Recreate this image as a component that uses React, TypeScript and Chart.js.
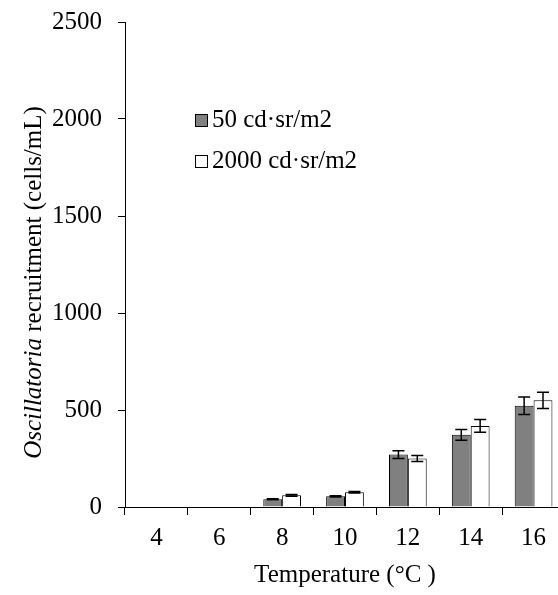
import { useEffect, useRef } from 'react';
import { Chart, registerables } from 'chart.js';

Chart.register(...registerables);

const FONT = '"Liberation Serif", "Times New Roman", serif';

const categories = ['4', '6', '8', '10', '12', '14', '16'];
const seriesLabels = ['50 cd·sr/m2', '2000 cd·sr/m2'];
const values50 = [0, 0, 40, 55, 270, 372, 522];
const values2000 = [0, 0, 60, 76, 250, 418, 550];
const errors50 = [0, 0, 3, 3, 20, 28, 45];
const errors2000 = [0, 0, 5, 4, 15, 33, 42];
const seriesColors = ['#808080', '#ffffff'];
const yMin = 0;
const yMax = 2500;
const yStep = 500;
const xTitle = 'Temperature (°C )';
const yTitleItalic = 'Oscillatoria';
const yTitleRest = ' recruitment (cells/mL)';

const ERRORS = [errors50, errors2000];

export default function App() {
  const ref = useRef<HTMLCanvasElement>(null);

  useEffect(() => {
    if (!ref.current) return;

    const errorBars = {
      id: 'errorBars',
      afterDatasetsDraw(chart: any) {
        const ctx = chart.ctx;
        const ys = chart.scales.y;
        chart.data.datasets.forEach((ds: any, i: number) => {
          const meta = chart.getDatasetMeta(i);
          meta.data.forEach((bar: any, j: number) => {
            const v = ds.data[j];
            const e = ERRORS[i][j];
            if (!e) return;
            const x = bar.x;
            const yt = ys.getPixelForValue(v + e);
            const yb = ys.getPixelForValue(v - e);
            ctx.save();
            ctx.strokeStyle = '#000';
            ctx.lineWidth = 1.5;
            ctx.beginPath();
            ctx.moveTo(x, yt);
            ctx.lineTo(x, yb);
            ctx.moveTo(x - 6, yt);
            ctx.lineTo(x + 6, yt);
            ctx.moveTo(x - 6, yb);
            ctx.lineTo(x + 6, yb);
            ctx.stroke();
            ctx.restore();
          });
        });
      },
    };

    const customLegend = {
      id: 'customLegend',
      afterDraw(chart: any) {
        const ctx = chart.ctx;
        ctx.save();
        ctx.font = `25px ${FONT}`;
        ctx.textBaseline = 'alphabetic';
        ctx.textAlign = 'left';
        const baselines = [127, 168];
        chart.data.datasets.forEach((ds: any, i: number) => {
          const b = baselines[i];
          ctx.fillStyle = ds.backgroundColor;
          ctx.fillRect(195.5, b - 12.5, 12, 12);
          ctx.strokeStyle = '#000';
          ctx.lineWidth = 1;
          ctx.strokeRect(195.5, b - 12.5, 12, 12);
          ctx.fillStyle = '#000';
          ctx.fillText(ds.label, 212, b);
        });
        ctx.restore();
      },
    };

    const yTitle = {
      id: 'yTitle',
      afterDraw(chart: any) {
        const ctx = chart.ctx;
        const area = chart.chartArea;
        ctx.save();
        ctx.fillStyle = '#000';
        ctx.textBaseline = 'alphabetic';
        ctx.textAlign = 'left';
        const italicFont = `italic 25px ${FONT}`;
        const normalFont = `25px ${FONT}`;
        ctx.font = italicFont;
        const w1 = ctx.measureText(yTitleItalic).width;
        ctx.font = normalFont;
        const w2 = ctx.measureText(yTitleRest).width;
        const total = w1 + w2;
        const cy = (area.top + area.bottom) / 2 + 18;
        ctx.translate(41, cy);
        ctx.rotate(-Math.PI / 2);
        ctx.font = italicFont;
        ctx.fillText(yTitleItalic, -total / 2, 0);
        ctx.font = normalFont;
        ctx.fillText(yTitleRest, -total / 2 + w1, 0);
        ctx.restore();
      },
    };

    const chart = new Chart(ref.current, {
      type: 'bar',
      data: {
        labels: categories,
        datasets: [
          {
            label: seriesLabels[0],
            data: values50,
            backgroundColor: seriesColors[0],
            borderColor: '#000',
            borderWidth: 1,
            barPercentage: 1,
            categoryPercentage: 0.6,
          },
          {
            label: seriesLabels[1],
            data: values2000,
            backgroundColor: seriesColors[1],
            borderColor: '#000',
            borderWidth: 1,
            barPercentage: 1,
            categoryPercentage: 0.6,
          },
        ],
      },
      options: {
        responsive: false,
        animation: false,
        devicePixelRatio: 1,
        layout: { padding: { top: 22, right: 5, left: 0, bottom: 0 } },
        plugins: {
          legend: { display: false },
          tooltip: { enabled: false },
          title: { display: false },
        },
        scales: {
          x: {
            grid: {
              display: true,
              drawOnChartArea: false,
              drawTicks: true,
              tickLength: 8,
              offset: true,
              color: '#000',
              lineWidth: 1,
            },
            border: { display: true, color: '#000', width: 1 },
            ticks: {
              font: { family: FONT, size: 25 },
              color: '#000',
              padding: 8,
              maxRotation: 0,
            },
            title: {
              display: true,
              text: xTitle,
              font: { family: FONT, size: 25 },
              color: '#000',
              padding: { top: 0, bottom: 5 },
            },
            afterFit: (s: any) => {
              s.height = 88;
              s.paddingLeft = 0;
              s.paddingRight = 0;
            },
          },
          y: {
            min: yMin,
            max: yMax,
            grid: {
              display: true,
              drawOnChartArea: false,
              drawTicks: true,
              tickLength: 7,
              color: '#000',
              lineWidth: 1,
            },
            border: { display: true, color: '#000', width: 1 },
            ticks: {
              stepSize: yStep,
              font: { family: FONT, size: 25 },
              color: '#000',
              padding: 16,
              callback: (v: any) => String(v),
            },
            afterFit: (s: any) => {
              s.width = 125;
              s.paddingTop = 0;
              s.paddingBottom = 0;
            },
          },
        },
      },
      plugins: [errorBars, customLegend, yTitle],
    });

    return () => chart.destroy();
  }, []);

  return (
    <div
      style={{
        position: 'absolute',
        left: 0,
        top: 0,
        width: 558,
        height: 595,
        overflow: 'hidden',
        background: '#fff',
      }}
    >
      <canvas ref={ref} width={570} height={595} style={{ display: 'block' }} />
    </div>
  );
}
